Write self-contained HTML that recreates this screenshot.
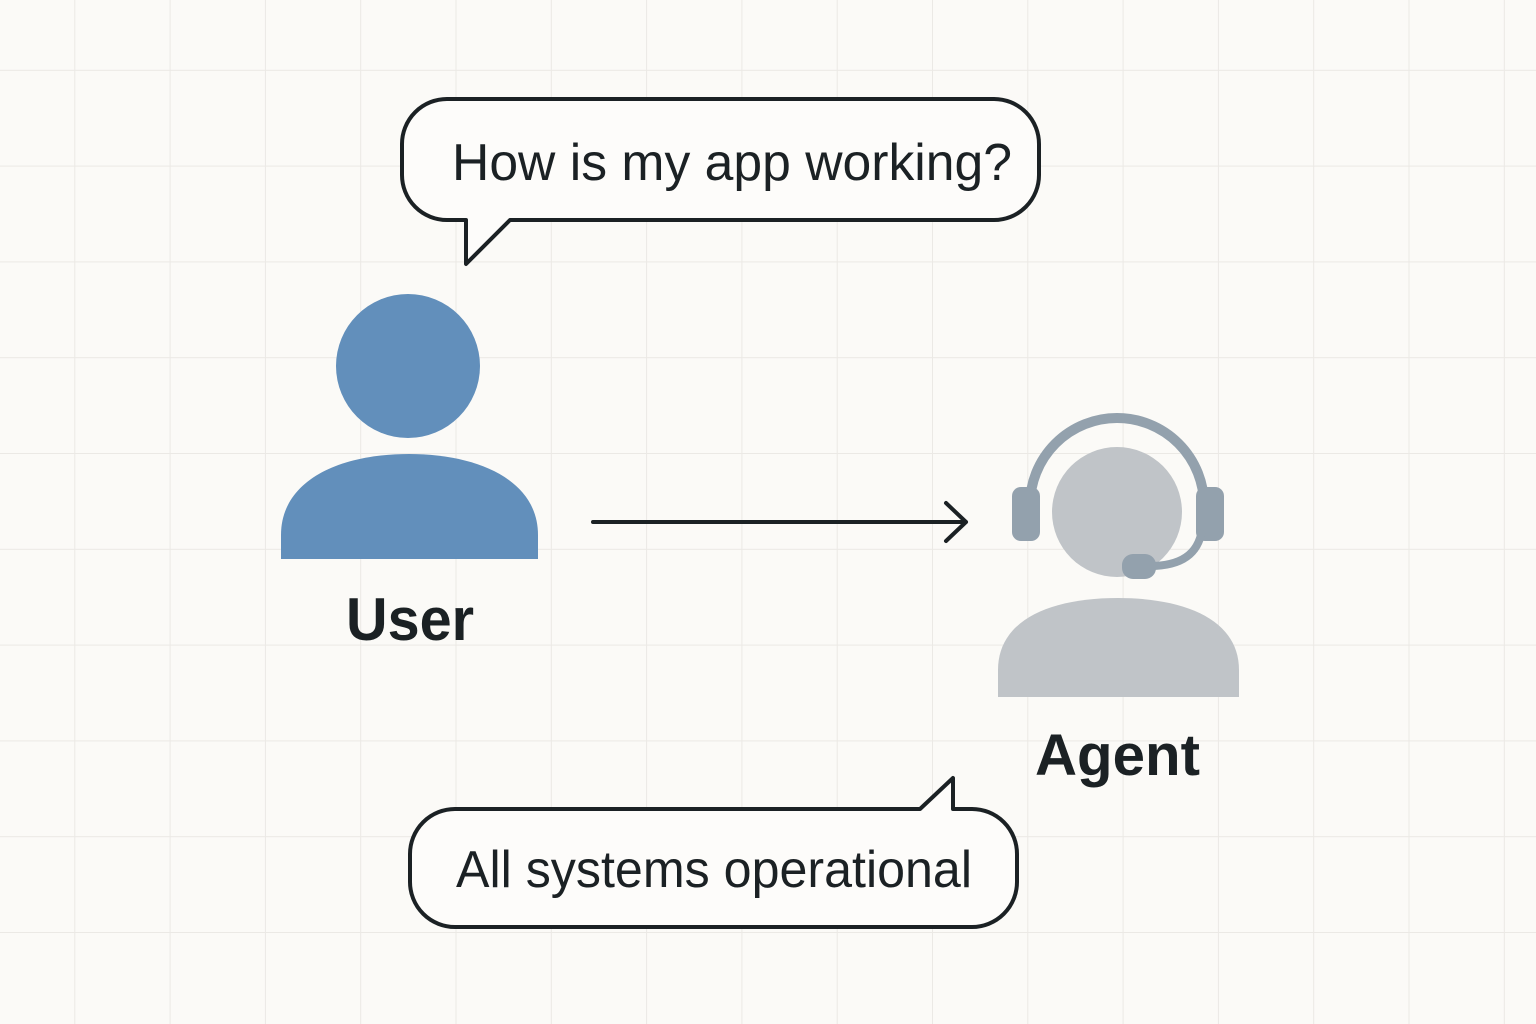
<!DOCTYPE html>
<html><head><meta charset="utf-8"><style>
html,body{margin:0;padding:0;background:#fbfaf7;}
svg{display:block}
text{font-family:"Liberation Sans",sans-serif;fill:#1b2124}
</style></head><body>
<svg width="1536" height="1024" viewBox="0 0 1536 1024" xmlns="http://www.w3.org/2000/svg">
<defs>
<pattern id="g" x="-20" y="-25" width="95.3" height="95.8" patternUnits="userSpaceOnUse">
<path d="M95.3 0V95.8M0 95.8H95.3" stroke="#ebe9e5" stroke-width="2" fill="none"/>
</pattern>
</defs>
<rect width="1536" height="1024" fill="#fbfaf7"/>
<rect width="1536" height="1024" fill="url(#g)"/>

<!-- bubble 1 -->
<path d="M447 99 H994 A45 45 0 0 1 1039 144 V175 A45 45 0 0 1 994 220 H510 L466 264 V220 H447 A45 45 0 0 1 402 175 V144 A45 45 0 0 1 447 99 Z" fill="#fdfcfa" stroke="#1b2124" stroke-width="4" stroke-linejoin="round"/>
<text x="452" y="180" font-size="52" textLength="560" lengthAdjust="spacingAndGlyphs">How is my app working?</text>

<!-- user -->
<circle cx="408" cy="366" r="72" fill="#628fbb"/>
<path d="M281 559 V535 C281 480 340 454 409 454 C478 454 538 480 538 535 V559 Z" fill="#628fbb"/>
<text x="346" y="640" font-size="60" font-weight="bold" textLength="128" lengthAdjust="spacingAndGlyphs">User</text>

<!-- arrow -->
<path d="M593 522 H966 M946 503 L966 522 L946 541" stroke="#1b2124" stroke-width="4" fill="none" stroke-linecap="round" stroke-linejoin="round"/>

<!-- agent -->
<circle cx="1117" cy="512" r="65" fill="#c0c4c8"/>
<path d="M1030 505 A87 87 0 0 1 1204 505" stroke="#93a1ad" stroke-width="10" fill="none"/>
<rect x="1012" y="487" width="28" height="54" rx="9" fill="#93a1ad"/>
<rect x="1196" y="487" width="28" height="54" rx="9" fill="#93a1ad"/>
<path d="M1202 530 C1198 555 1180 566 1150 566" stroke="#93a1ad" stroke-width="8" fill="none"/>
<rect x="1122" y="554" width="34" height="25" rx="11" fill="#93a1ad"/>
<path d="M998 697 V670 C998 620 1050 598 1118 598 C1186 598 1239 620 1239 670 V697 Z" fill="#c0c4c8"/>
<text x="1035" y="775" font-size="58" font-weight="bold" textLength="165" lengthAdjust="spacingAndGlyphs">Agent</text>

<!-- bubble 2 -->
<path d="M455 809 H920 L953 778 V809 H972 A45 45 0 0 1 1017 854 V882 A45 45 0 0 1 972 927 H455 A45 45 0 0 1 410 882 V854 A45 45 0 0 1 455 809 Z" fill="#fdfcfa" stroke="#1b2124" stroke-width="4" stroke-linejoin="round"/>
<text x="456" y="887" font-size="52" textLength="516" lengthAdjust="spacingAndGlyphs">All systems operational</text>
</svg>
</body></html>
